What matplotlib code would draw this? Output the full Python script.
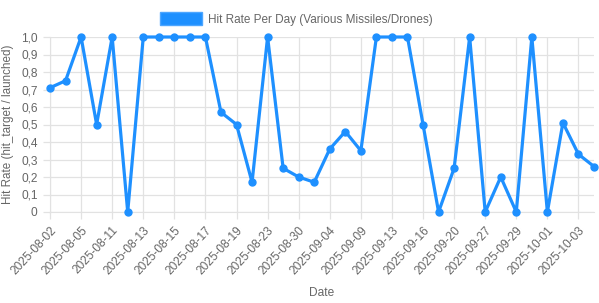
import numpy as np
import matplotlib
matplotlib.use('Agg')
import matplotlib.pyplot as plt
from matplotlib.patches import Patch

plt.rcParams['font.family'] = ['Liberation Sans', 'DejaVu Sans']

# category labels (every other one is shown on the axis)
dates = ['2025-08-02', '2025-08-03', '2025-08-05', '2025-08-08', '2025-08-11', '2025-08-12',
         '2025-08-13', '2025-08-14', '2025-08-15', '2025-08-16', '2025-08-17', '2025-08-18',
         '2025-08-19', '2025-08-21', '2025-08-23', '2025-08-27', '2025-08-30', '2025-09-02',
         '2025-09-04', '2025-09-07', '2025-09-09', '2025-09-11', '2025-09-13', '2025-09-14',
         '2025-09-16', '2025-09-18', '2025-09-20', '2025-09-24', '2025-09-27', '2025-09-28',
         '2025-09-29', '2025-09-30', '2025-10-01', '2025-10-02', '2025-10-03', '2025-10-04']
hit_rate = [0.71, 0.75, 1.0, 0.5, 1.0, 0.0, 1.0, 1.0, 1.0, 1.0, 1.0, 0.57,
            0.5, 0.17, 1.0, 0.25, 0.2, 0.17, 0.36, 0.46, 0.35, 1.0, 1.0, 1.0,
            0.5, 0.0, 0.25, 1.0, 0.0, 0.2, 0.0, 1.0, 0.0, 0.51, 0.33, 0.26]

blue = '#1E90FF'
grey = '#666666'
grid = '#e2e2e2'

fig = plt.figure(figsize=(5.99, 3.03), dpi=100)
ax = fig.add_axes([50/599, 91/303, 544/599, 175/303])

x = np.arange(len(dates))
ax.plot(x, hit_rate, color=blue, lw=2.3, marker='o', ms=5, zorder=3, clip_on=False)

ax.set_xlim(0, len(dates) - 1)
ax.set_ylim(0, 1.0)
yt = np.arange(0, 11) / 10
ax.set_yticks(yt)
ax.set_yticklabels(['0'] + [f'{v:.1f}'.replace('.', ',') for v in yt[1:]])
ax.set_xticks(x[::2])
ax.set_xticklabels(dates[::2], rotation=47, ha='right', rotation_mode='anchor')

ax.grid(True, color=grid, lw=0.9, zorder=0)
for s in ax.spines.values():
    s.set_visible(False)
ax.spines['left'].set_visible(True)
ax.spines['left'].set_color(grid)
ax.spines['bottom'].set_visible(True)
ax.spines['bottom'].set_color(grid)
ax.tick_params(axis='both', colors=grid, labelcolor=grey, labelsize=8.6, length=5, width=0.9, pad=4)
ax.tick_params(axis='x', pad=4)

ax.set_ylabel('Hit Rate (hit_target / launched)', color=grey, fontsize=8.4, labelpad=5)
ax.set_xlabel('Date', color=grey, fontsize=8.6)
ax.xaxis.set_label_coords(0.5, -0.43)

handle = Patch(facecolor=blue, edgecolor='#4da6ff', lw=1)
leg = fig.legend([handle], ['Hit Rate Per Day (Various Missiles/Drones)'],
                 loc='upper center', bbox_to_anchor=(0.495, 0.995), frameon=False,
                 handlelength=3.6, handleheight=1.3, handletextpad=0.5,
                 fontsize=8.5, labelcolor=grey)

fig.savefig('out.png', dpi=100)
plt.close()
